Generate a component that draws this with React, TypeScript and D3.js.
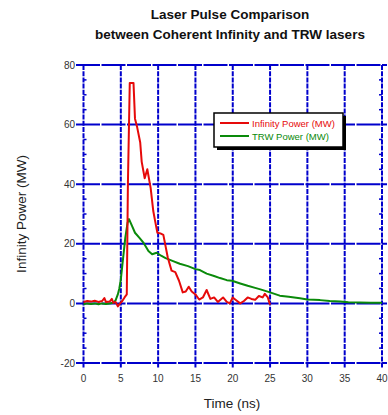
import React from 'react';
import * as d3 from 'd3';

// Infinity laser trace (red)
const infTime = [0, 0.5, 1, 1.5, 2, 2.5, 2.8, 3, 3.5, 3.8, 4, 4.3, 4.6, 4.9, 5.2, 5.5, 5.8, 5.95, 6.2, 6.7, 6.9, 7.2, 7.6, 7.8, 8.2, 8.55, 9.0, 9.35, 9.6, 9.9, 10.3, 10.7, 11.3, 11.8, 12.3, 12.8, 13.3, 13.7, 14.1, 14.5, 15.0, 15.5, 16.0, 16.5, 17.0, 17.5, 18.0, 18.7, 19.2, 19.6, 20.0, 20.5, 21.0, 21.5, 22.0, 22.5, 23.0, 23.5, 24.0, 24.3, 24.7, 25.0];
const infPower = [0.5, 0.8, 0.6, 0.9, 0.5, 0.8, 1.8, 0.5, 0.6, 1.5, 0.2, 0.5, -1, 0, 0.8, 2, 3, 40, 74, 74, 62, 59, 54, 47.5, 42, 45, 38.7, 31, 27.6, 23.7, 23.5, 23, 15.3, 11, 10.5, 7.6, 3.7, 4, 5.6, 4, 3, 1.3, 2, 4.5, 1.5, 2, 0.5, 2, 0.5, 0, 2, 1, 0, 0.8, 2, 1.5, 1.2, 2.5, 2, 3.2, 2, -0.5];

// TRW laser trace (green)
const trwTime = [0, 0.5, 1, 1.5, 2, 2.5, 3, 3.5, 4, 4.3, 4.6, 4.8, 5.0, 5.3, 5.6, 5.9, 6.1, 6.5, 6.9, 7.5, 8, 8.7, 9.2, 9.8, 10.4, 11, 12, 12.9, 14, 15, 15.6, 16.5, 17.5, 18.3, 19.2, 19.9, 21, 22, 23, 23.6, 25, 26.3, 27.5, 29, 30, 31.7, 33, 34.4, 35.5, 37, 38.5, 40];
const trwPower = [-0.3, 0, -0.2, 0, -0.3, 0, -0.2, 0, 0.2, 1, 3, 5, 8, 15, 22, 27, 28.3, 26, 23.7, 22, 20.5, 17.6, 16.5, 17, 16, 15.2, 14.2, 13.3, 12.5, 11.5, 11.2, 10, 9.2, 8.5, 7.8, 7.6, 6.7, 5.9, 5.2, 4.8, 3.7, 2.6, 2.2, 1.7, 1.3, 1.1, 0.8, 0.6, 0.4, 0.3, 0.2, 0.2];

const xTicks = [0, 5, 10, 15, 20, 25, 30, 35, 40];
const yTicks = [-20, 0, 20, 40, 60, 80];
const yMinor = d3.range(-20, 81, 5).filter(v => v % 20 !== 0);

const legendLabels = ['Infinity Power (MW)', 'TRW Power (MW)'];

const BLUE = '#0000cc';
const RED = '#e60a0a';
const GREEN = '#0a8a0a';
const FONT = 'Liberation Sans, Arial, sans-serif';

export default function App() {
  const x = d3.scaleLinear().domain([0, 40]).range([83.5, 382]);
  const y = d3.scaleLinear().domain([-20, 80]).range([363, 65]);

  const line = d3.line<[number, number]>().x(d => x(d[0])).y(d => y(d[1]));
  const infPts = infTime.map((t, i) => [t, infPower[i]] as [number, number]);
  const trwPts = trwTime.map((t, i) => [t, trwPower[i]] as [number, number]);

  const [y0, y1] = y.range();

  return (
    <svg width={388} height={415} style={{ position: 'absolute', left: 0, top: 0, background: '#fff' }} fontFamily={FONT}>
      <text x={230} y={19} textAnchor="middle" fontSize={13.5} fontWeight="bold" fill="#111">Laser Pulse Comparison</text>
      <text x={230} y={39} textAnchor="middle" fontSize={13.5} fontWeight="bold" fill="#111">between Coherent Infinity and TRW lasers</text>

      {/* horizontal grid */}
      {yTicks.map(v => (
        <line key={'h' + v} x1={76} x2={387} y1={y(v)} y2={y(v)} stroke={BLUE} strokeWidth={2} strokeDasharray="24,1.5" />
      ))}
      {/* vertical grid */}
      {xTicks.map(v => (
        <line key={'v' + v} x1={x(v)} x2={x(v)} y1={y1} y2={y0 + 5} stroke={BLUE} strokeWidth={2} strokeDasharray="5,1.2" />
      ))}
      {/* minor ticks */}
      {yMinor.map(v => (
        <g key={'m' + v}>
          <line x1={x(0)} x2={x(0) + 3} y1={y(v)} y2={y(v)} stroke={BLUE} strokeWidth={1.5} />
          <line x1={x(40) - 3} x2={x(40)} y1={y(v)} y2={y(v)} stroke={BLUE} strokeWidth={1.5} />
        </g>
      ))}

      {/* tick labels */}
      {yTicks.map(v => (
        <text key={'yl' + v} x={75} y={y(v) + 3.5} textAnchor="end" fontSize={10} fill="#333">{v}</text>
      ))}
      {xTicks.map(v => (
        <text key={'xl' + v} x={x(v)} y={382} textAnchor="middle" fontSize={10} fill="#333">{v}</text>
      ))}

      <text x={232} y={408} textAnchor="middle" fontSize={13.5} fill="#222">Time (ns)</text>
      <text transform="translate(26,214) rotate(-90)" textAnchor="middle" fontSize={13.5} fill="#222">Infinity Power (MW)</text>

      {/* series */}
      <path d={line(trwPts) || ''} fill="none" stroke={GREEN} strokeWidth={2} strokeLinejoin="round" />
      <path d={line(infPts) || ''} fill="none" stroke={RED} strokeWidth={2} strokeLinejoin="round" />

      {/* legend */}
      <rect x={217} y={116} width={129} height={34} fill="#000" />
      <rect x={214} y={113} width={129} height={34} fill="#fff" stroke="#000" strokeWidth={1.5} />
      {legendLabels.map((lbl, i) => (
        <g key={lbl}>
          <line x1={220} x2={249} y1={123 + i * 13} y2={123 + i * 13} stroke={i === 0 ? RED : GREEN} strokeWidth={2} />
          <text x={252} y={126.5 + i * 13} fontSize={9.5} fill={i === 0 ? RED : GREEN}>{lbl}</text>
        </g>
      ))}
    </svg>
  );
}
